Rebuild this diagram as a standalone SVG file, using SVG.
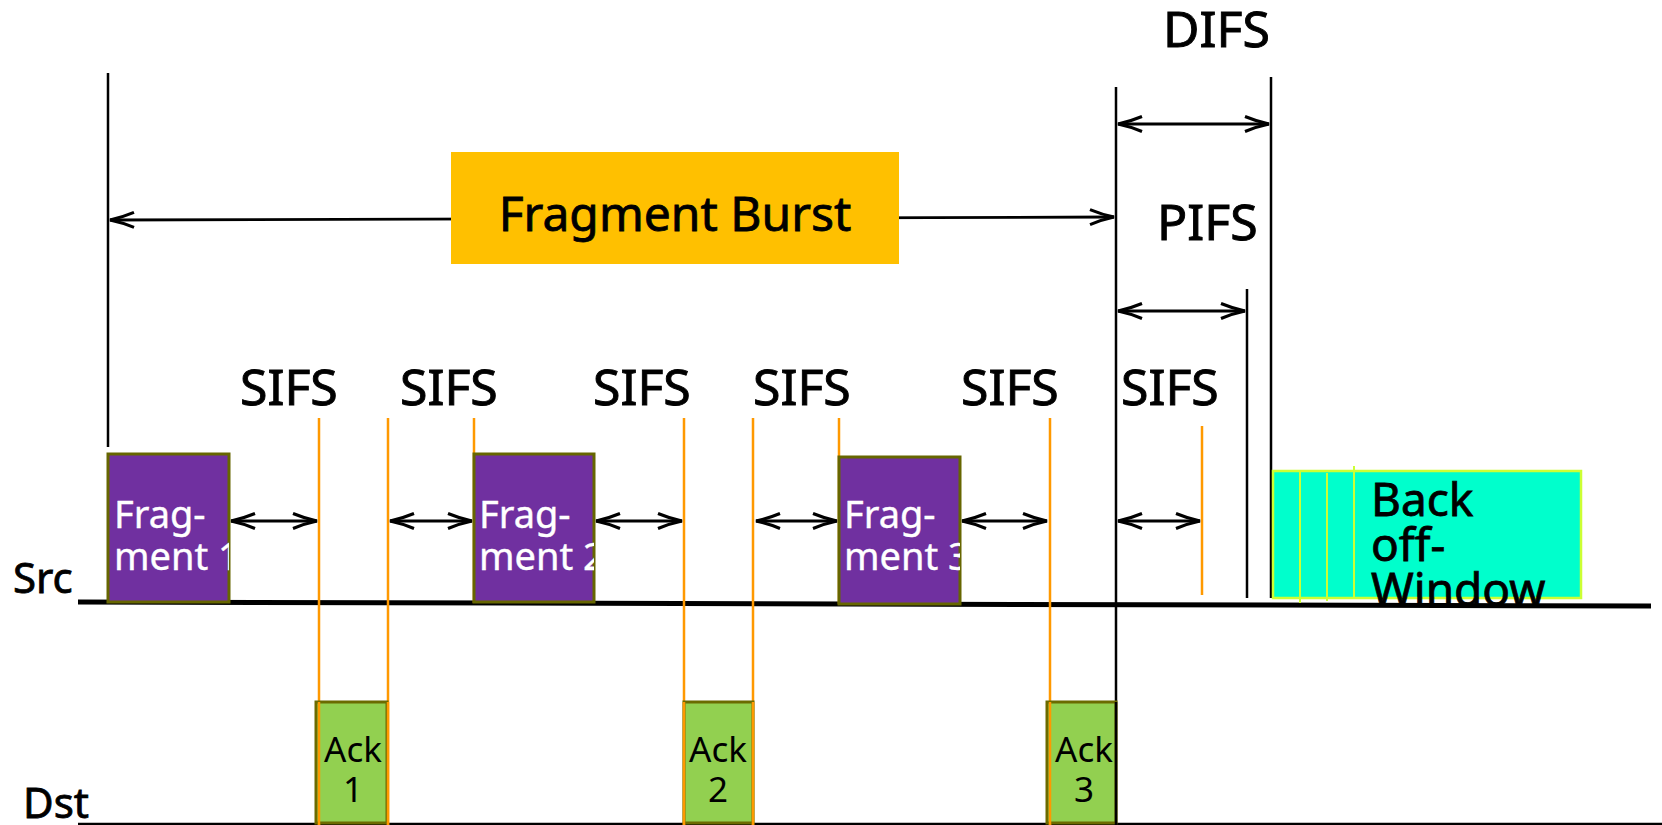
<svg xmlns="http://www.w3.org/2000/svg" width="1662" height="825" viewBox="0 0 1662 825">
<style>
text{font-family:"Noto Sans","Open Sans","DejaVu Sans",sans-serif;}
.lbl{font-size:50px;fill:#000;stroke:#000;stroke-width:0.9;}
.big{fill:#000;stroke:#000;stroke-width:0.8;}
.ftxt{font-size:38px;fill:#fff;stroke:#fff;stroke-width:0.4;}
.atxt{font-size:35px;fill:#000;text-anchor:middle;}
.frag{fill:#7030A0;stroke:#666600;stroke-width:3;}
.ack{fill:#92D050;stroke:#6b6b00;stroke-width:3;}
.or{stroke:#FF9900;stroke-width:2.5;fill:none;}
.bk{stroke:#000;stroke-width:2.5;fill:none;}
.arr{stroke:#000;stroke-width:2.8;fill:none;marker-start:url(#ah);marker-end:url(#ah);}
</style>
<defs>
<marker id="ah" markerUnits="userSpaceOnUse" viewBox="-27 -10 30 20" refX="0" refY="0" markerWidth="30" markerHeight="20" orient="auto-start-reverse">
<path d="M-24,-7.5 Q-12,-2.5 0,0 Q-12,2.5 -24,7.5" fill="none" stroke="#000" stroke-width="3"/>
</marker>
<clipPath id="c1"><rect x="108" y="454" width="121" height="148"/></clipPath>
<clipPath id="c2"><rect x="474" y="454" width="120" height="148"/></clipPath>
<clipPath id="c3"><rect x="839" y="457" width="121" height="147"/></clipPath>
<clipPath id="ca1"><rect x="316" y="702" width="71" height="121"/></clipPath>
<clipPath id="ca2"><rect x="684" y="702" width="69" height="121"/></clipPath>
<clipPath id="ca3"><rect x="1047" y="702" width="69" height="121"/></clipPath>
</defs>
<rect width="1662" height="825" fill="#fff"/>

<g id="timelines">
<line x1="78" y1="602" x2="1651" y2="606" stroke="#000" stroke-width="5"/>
<line x1="78" y1="824" x2="1662" y2="824" stroke="#000" stroke-width="2.5"/>
<text class="big" x="13" y="593" style="font-size:42px">Src</text>
<text class="big" x="23" y="818" style="font-size:42px">Dst</text>
</g>

<g id="connectors">
<line class="bk" x1="108" y1="73" x2="108" y2="447"/>
<line class="bk" x1="1116" y1="87" x2="1116" y2="825"/>
<line class="bk" x1="1271" y1="77" x2="1271" y2="598"/>
<line class="bk" x1="1247" y1="289" x2="1247" y2="598"/>
<line class="arr" x1="110" y1="220" x2="1114" y2="217"/>
<line class="arr" x1="1118" y1="124" x2="1269" y2="124"/>
<line class="arr" x1="1118" y1="311" x2="1245" y2="311"/>
<line class="or" x1="319" y1="418" x2="319" y2="825"/>
<line class="or" x1="388" y1="418" x2="388" y2="825"/>
<line class="or" x1="474" y1="418" x2="474" y2="603"/>
<line class="or" x1="684" y1="418" x2="684" y2="825"/>
<line class="or" x1="753" y1="418" x2="753" y2="825"/>
<line class="or" x1="839" y1="418" x2="839" y2="604"/>
<line class="or" x1="1050" y1="418" x2="1050" y2="825"/>
<line class="or" x1="1202" y1="426" x2="1202" y2="595"/>
<line class="arr" x1="231" y1="521" x2="317" y2="521"/>
<line class="arr" x1="390" y1="521" x2="472" y2="521"/>
<line class="arr" x1="596" y1="521" x2="682" y2="521"/>
<line class="arr" x1="756" y1="521" x2="837" y2="521"/>
<line class="arr" x1="962" y1="521" x2="1047" y2="521"/>
<line class="arr" x1="1118" y1="521" x2="1200" y2="521"/>
</g>

<g id="labels">
<text class="lbl" x="240" y="405">SIFS</text>
<text class="lbl" x="400" y="405">SIFS</text>
<text class="lbl" x="593" y="405">SIFS</text>
<text class="lbl" x="753" y="405">SIFS</text>
<text class="lbl" x="961" y="405">SIFS</text>
<text class="lbl" x="1121" y="405">SIFS</text>
<text class="lbl" x="1163" y="47">DIFS</text>
<text class="lbl" x="1157" y="240">PIFS</text>
</g>

<g id="burst">
<rect x="451" y="152" width="448" height="112" fill="#FFC000"/>
<text class="big" x="675" y="231" text-anchor="middle" style="font-size:48px">Fragment Burst</text>
</g>

<g id="frag1">
<rect class="frag" x="108" y="454" width="121" height="148"/>
<g clip-path="url(#c1)"><text class="ftxt" x="114" y="528">Frag-</text><text class="ftxt" x="114" y="570">ment 1</text></g>
</g>
<g id="frag2">
<rect class="frag" x="474" y="454" width="120" height="148"/>
<g clip-path="url(#c2)"><text class="ftxt" x="479" y="528">Frag-</text><text class="ftxt" x="479" y="570">ment 2</text></g>
</g>
<g id="frag3">
<rect class="frag" x="839" y="457" width="121" height="147"/>
<g clip-path="url(#c3)"><text class="ftxt" x="844" y="528">Frag-</text><text class="ftxt" x="844" y="570">ment 3</text></g>
</g>

<g id="ack1">
<rect class="ack" x="316" y="702" width="71" height="121"/>
<line class="or" x1="319" y1="702" x2="319" y2="825"/>
<line class="or" x1="388" y1="702" x2="388" y2="825"/>
<g clip-path="url(#ca1)"><text class="atxt" x="353" y="762">Ack</text><text class="atxt" x="353" y="802">1</text></g>
</g>
<g id="ack2">
<rect class="ack" x="684" y="702" width="69" height="121"/>
<line class="or" x1="684" y1="702" x2="684" y2="825"/>
<line class="or" x1="753" y1="702" x2="753" y2="825"/>
<g clip-path="url(#ca2)"><text class="atxt" x="718" y="762">Ack</text><text class="atxt" x="718" y="802">2</text></g>
</g>
<g id="ack3">
<rect class="ack" x="1047" y="702" width="69" height="121"/>
<line class="or" x1="1050" y1="702" x2="1050" y2="825"/>
<line class="bk" x1="1116" y1="702" x2="1116" y2="825"/>
<g clip-path="url(#ca3)"><text class="atxt" x="1084" y="762">Ack</text><text class="atxt" x="1084" y="802">3</text></g>
</g>

<g id="backoff">
<rect x="1273" y="471" width="308" height="127" fill="#00FFCC" stroke="#CCFF33" stroke-width="2.5"/>
<line x1="1300" y1="471" x2="1300" y2="603" stroke="#CCFF33" stroke-width="2"/>
<line x1="1327" y1="473" x2="1327" y2="601" stroke="#CCFF33" stroke-width="2"/>
<line x1="1354" y1="466" x2="1354" y2="598" stroke="#CCFF33" stroke-width="2"/>
<text class="big" x="1371" y="516" style="font-size:46px">Back</text>
<text class="big" x="1371" y="561" style="font-size:46px">off-</text>
<text class="big" x="1371" y="606" style="font-size:46px">Window</text>
</g>
</svg>
